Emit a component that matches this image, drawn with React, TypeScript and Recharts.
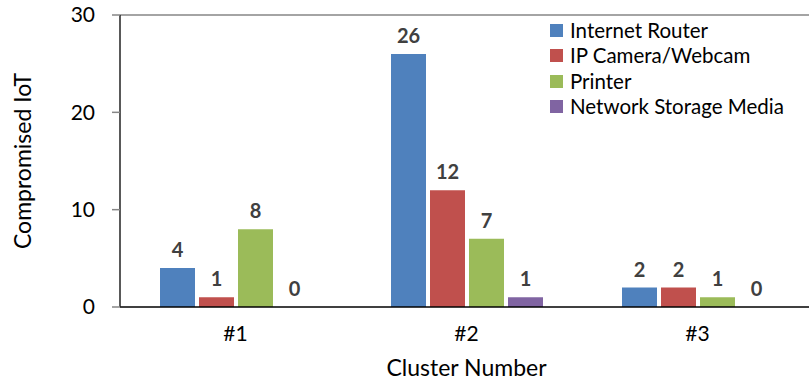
import { BarChart, Bar, XAxis, YAxis, Legend, LabelList, ReferenceLine } from "recharts";

const clusters = ["#1", "#2", "#3"];
const router = [4, 26, 2];
const camera = [1, 12, 2];
const printer = [8, 7, 1];
const storage = [0, 1, 0];
const yTicks = [0, 10, 20, 30];

const series = [
  { key: "router", name: "Internet Router", color: "#4F81BD" },
  { key: "camera", name: "IP Camera/Webcam", color: "#C0504D" },
  { key: "printer", name: "Printer", color: "#9BBB59" },
  { key: "storage", name: "Network Storage Media", color: "#8064A2" },
];

const rows = clusters.map((c, i) => ({
  cluster: c,
  router: router[i],
  camera: camera[i],
  printer: printer[i],
  storage: storage[i],
}));

const font = "Lato, 'Open Sans', sans-serif";

// legend drawn as a plain list of colour squares and names
function LegendBox() {
  return (
    <div style={{ fontFamily: font, fontSize: 20.5, color: "#000", lineHeight: "25px" }}>
      {series.map((s) => (
        <div key={s.key} style={{ display: "flex", alignItems: "center", height: 25.3 }}>
          <span style={{ width: 13, height: 13, background: s.color, marginRight: 7, display: "inline-block" }} />
          <span>{s.name}</span>
        </div>
      ))}
    </div>
  );
}

export default function App() {
  return (
    <div style={{ position: "absolute", left: 0, top: 0, width: 809, height: 382, overflow: "hidden", background: "#fff" }}>
      <BarChart
        width={813}
        height={382}
        data={rows}
        margin={{ top: 15, right: 0, left: 0, bottom: 0 }}
        barSize={35}
        barGap={4}
      >
        <ReferenceLine y={30} stroke="#868686" strokeWidth={1.5} />
        <XAxis
          dataKey="cluster"
          height={75}
          tickLine={false}
          tickSize={6}
          tickMargin={13}
          axisLine={{ stroke: "#000", strokeWidth: 1.5 }}
          tick={{ fontSize: 21, fill: "#000", fontFamily: font }}
          label={{ value: "Cluster Number", position: "insideBottom", offset: 6, fontSize: 23, fill: "#000", fontFamily: font }}
        />
        <YAxis
          width={120}
          domain={[0, 30]}
          ticks={yTicks}
          tickSize={8}
          tickMargin={17}
          tickLine={{ stroke: "#868686", strokeWidth: 1.5 }}
          axisLine={{ stroke: "#222", strokeWidth: 1.5 }}
          tick={{ fontSize: 21, fill: "#000", fontFamily: font }}
          label={{
            value: "Compromised IoT",
            angle: -90,
            position: "insideLeft",
            offset: 23,
            fontSize: 23,
            fill: "#000",
            fontFamily: font,
            style: { textAnchor: "middle" },
          }}
        />
        <Legend
          verticalAlign="middle"
          align="center"
          layout="vertical"
          content={<LegendBox />}
          wrapperStyle={{ top: 18, left: 550, width: 259, height: 102 }}
        />
        {series.map((s) => (
          <Bar
            key={s.key}
            dataKey={s.key}
            name={s.name}
            fill={s.color}
            minPointSize={0.01}
            isAnimationActive={false}
          >
            <LabelList
              dataKey={s.key}
              position="top"
              offset={11}
              fill="#404040"
              fontSize={20}
              fontWeight="bold"
              fontFamily={font}
            />
          </Bar>
        ))}
      </BarChart>
    </div>
  );
}
